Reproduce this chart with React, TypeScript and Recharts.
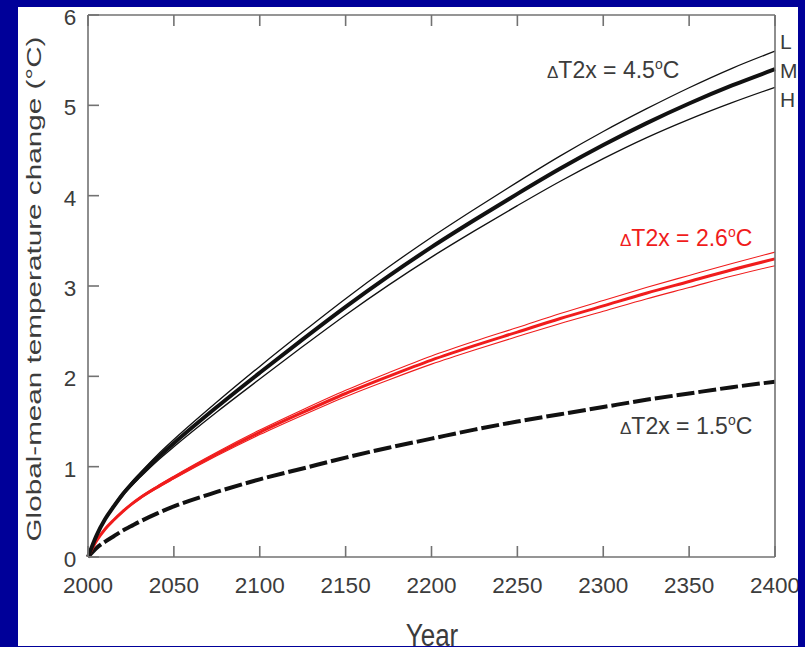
import React from 'react';
import { LineChart, Line, XAxis, YAxis } from 'recharts';

const years = [2000, 2005, 2010, 2015, 2020, 2025, 2030, 2040, 2050, 2075, 2100, 2125, 2150, 2175, 2200, 2225, 2250, 2275, 2300, 2325, 2350, 2375, 2400];
const s45L = [0, 0.245, 0.43, 0.573, 0.706, 0.82, 0.924, 1.122, 1.30, 1.715, 2.11, 2.49, 2.86, 3.21, 3.54, 3.85, 4.15, 4.44, 4.71, 4.96, 5.195, 5.41, 5.60];
const s45M = [0, 0.24, 0.42, 0.56, 0.69, 0.80, 0.90, 1.09, 1.26, 1.66, 2.04, 2.41, 2.77, 3.11, 3.43, 3.73, 4.02, 4.30, 4.56, 4.80, 5.02, 5.22, 5.40];
const s45H = [0, 0.235, 0.41, 0.547, 0.674, 0.78, 0.876, 1.058, 1.22, 1.605, 1.97, 2.33, 2.68, 3.01, 3.32, 3.61, 3.89, 4.16, 4.41, 4.64, 4.845, 5.03, 5.20];
const s26L = [0, 0.182, 0.314, 0.416, 0.507, 0.588, 0.66, 0.782, 0.895, 1.16, 1.405, 1.63, 1.845, 2.04, 2.225, 2.388, 2.54, 2.695, 2.84, 2.983, 3.117, 3.25, 3.375];
const s26M = [0, 0.18, 0.31, 0.41, 0.50, 0.58, 0.65, 0.77, 0.88, 1.14, 1.38, 1.60, 1.81, 2.00, 2.18, 2.34, 2.49, 2.64, 2.78, 2.92, 3.05, 3.18, 3.30];
const s26H = [0, 0.178, 0.306, 0.404, 0.493, 0.572, 0.64, 0.758, 0.865, 1.12, 1.355, 1.57, 1.775, 1.96, 2.135, 2.292, 2.44, 2.585, 2.72, 2.857, 2.983, 3.11, 3.225];
const s15M = [0, 0.10, 0.17, 0.23, 0.29, 0.34, 0.39, 0.48, 0.56, 0.72, 0.86, 0.98, 1.10, 1.21, 1.31, 1.41, 1.50, 1.58, 1.66, 1.74, 1.81, 1.88, 1.94];
const xTicks = [2000, 2050, 2100, 2150, 2200, 2250, 2300, 2350, 2400];
const yTicks = [0, 1, 2, 3, 4, 5, 6];

const data = years.map((year, i) => ({
  year,
  a45L: s45L[i], a45M: s45M[i], a45H: s45H[i],
  a26L: s26L[i], a26M: s26M[i], a26H: s26H[i],
  a15M: s15M[i],
}));

const AXIS = '#727272';
const TXT = '#3c3c3c';
const RED = '#f01c1c';
const FONT = '"Liberation Sans", Arial, Helvetica, sans-serif';
const TL = 11;
const TF = 22.5;

const BottomTick = (p: any) => (
  <g>
    <line x1={p.x} y1={p.y} x2={p.x} y2={p.y - TL} stroke={AXIS} strokeWidth={1.6} />
    <text x={p.x} y={p.y + 36} textAnchor="middle" fontSize={TF} fill={TXT} fontFamily={FONT}>{p.payload.value}</text>
  </g>
);
const TopTick = (p: any) => (
  <line x1={p.x} y1={p.y} x2={p.x} y2={p.y + TL} stroke={AXIS} strokeWidth={1.6} />
);
const LeftTick = (p: any) => (
  <g>
    <line x1={p.x} y1={p.y} x2={p.x + TL} y2={p.y} stroke={AXIS} strokeWidth={1.6} />
    <text x={p.x - 18} y={p.y + 10} textAnchor="middle" fontSize={TF} fill={TXT} fontFamily={FONT}>{p.payload.value}</text>
  </g>
);
const RightTick = (p: any) => (
  <line x1={p.x} y1={p.y} x2={p.x - 9} y2={p.y} stroke={AXIS} strokeWidth={1.6} />
);

const Anno = ({ x, y, val, color }: { x: number; y: number; val: string; color: string }) => (
  <text x={x} y={y} fontSize={23} fill={color} fontFamily={FONT}>
    <tspan fontSize={17}>Δ</tspan>
    <tspan>T2x = {val}</tspan>
    <tspan fontSize={14} dy={-9}>o</tspan>
    <tspan dy={9}>C</tspan>
  </text>
);

export default function App() {
  return (
    <div style={{ position: 'absolute', left: 0, top: 0, width: 805, height: 647, background: '#000099', overflow: 'hidden' }}>
      <div style={{ position: 'absolute', left: 18, top: 7, width: 780, height: 639, background: '#ffffff', overflow: 'hidden' }}>
        <LineChart width={780} height={639} data={data} margin={{ top: 7, right: 22, bottom: 88, left: 69 }}>
          <XAxis dataKey="year" type="number" domain={[2000, 2400]} ticks={xTicks} interval={0} height={1}
            tickSize={0} tickMargin={0} tickLine={false} axisLine={{ stroke: AXIS, strokeWidth: 1.6 }} tick={BottomTick} />
          <XAxis xAxisId="top" orientation="top" dataKey="year" type="number" domain={[2000, 2400]} ticks={xTicks} interval={0} height={1}
            tickSize={0} tickMargin={0} tickLine={false} axisLine={{ stroke: AXIS, strokeWidth: 1.6 }} tick={TopTick} />
          <YAxis type="number" domain={[0, 6]} ticks={yTicks} interval={0} width={1}
            tickSize={0} tickMargin={0} tickLine={false} axisLine={{ stroke: AXIS, strokeWidth: 1.6 }} tick={LeftTick} />
          <YAxis yAxisId="right" orientation="right" type="number" domain={[0, 6]} ticks={yTicks} interval={0} width={1}
            tickSize={0} tickMargin={0} tickLine={false} axisLine={{ stroke: AXIS, strokeWidth: 1.6 }} tick={RightTick} />
          <Line dataKey="a15M" type="monotone" stroke="#111" strokeWidth={4} strokeDasharray="18 4" dot={false} isAnimationActive={false} />
          <Line dataKey="a26L" type="monotone" stroke={RED} strokeWidth={1.1} dot={false} isAnimationActive={false} />
          <Line dataKey="a26H" type="monotone" stroke={RED} strokeWidth={1.1} dot={false} isAnimationActive={false} />
          <Line dataKey="a26M" type="monotone" stroke={RED} strokeWidth={3} dot={false} isAnimationActive={false} />
          <Line dataKey="a45L" type="monotone" stroke="#111" strokeWidth={1.3} dot={false} isAnimationActive={false} />
          <Line dataKey="a45H" type="monotone" stroke="#111" strokeWidth={1.3} dot={false} isAnimationActive={false} />
          <Line dataKey="a45M" type="monotone" stroke="#111" strokeWidth={4} dot={false} isAnimationActive={false} />
        </LineChart>
        <svg width={780} height={639} style={{ position: 'absolute', left: 0, top: 0, pointerEvents: 'none' }}>
          <text transform="translate(23,282) rotate(-90)" textAnchor="middle" fontSize={21} fill={TXT} fontFamily={FONT}
            textLength={505} lengthAdjust="spacingAndGlyphs">Global-mean temperature change (°C)</text>
          <text transform="translate(414,639) scale(1,1.2)" textAnchor="middle" fontSize={26} fill={TXT} fontFamily={FONT}
            >Year</text>
          <Anno x={529} y={71} val="4.5" color={TXT} />
          <Anno x={602} y={239} val="2.6" color={RED} />
          <Anno x={602} y={427} val="1.5" color={TXT} />
          <text x={762} y={42} fontSize={21} fill={TXT} fontFamily={FONT}>L</text>
          <text x={762} y={71} fontSize={21} fill={TXT} fontFamily={FONT}>M</text>
          <text x={762} y={100} fontSize={21} fill={TXT} fontFamily={FONT}>H</text>
        </svg>
      </div>
    </div>
  );
}
